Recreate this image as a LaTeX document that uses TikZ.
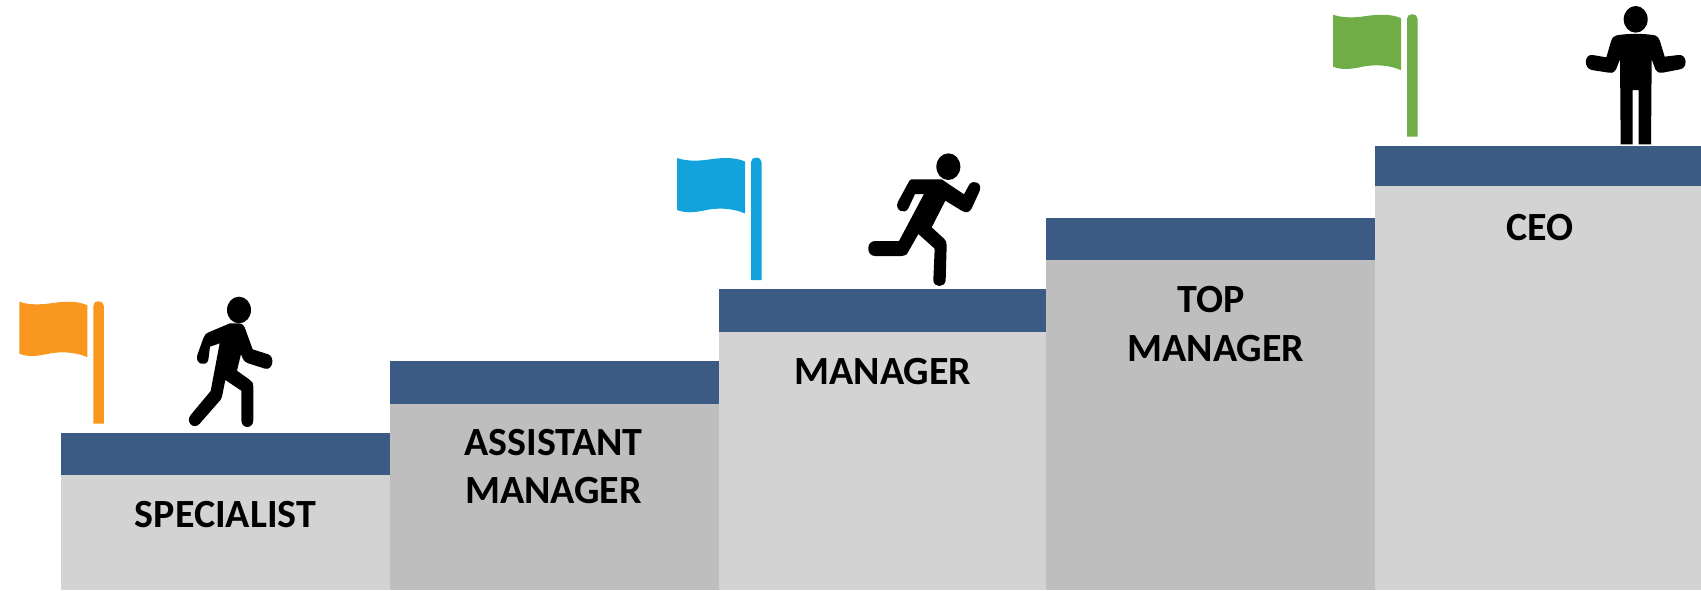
\documentclass[tikz,border=0pt]{standalone}
\usepackage{fontspec}
\setmainfont{Carlito}
\definecolor{stepblue}{HTML}{3B5B84}
\definecolor{steplight}{HTML}{D3D3D3}
\definecolor{stepdark}{HTML}{BEBEBE}
\definecolor{flagorange}{HTML}{F9971F}
\definecolor{flagblue}{HTML}{13A3DC}
\definecolor{flaggreen}{HTML}{70AD47}
\tikzset{
  steplabel/.style={font=\fontsize{30}{36.6}\selectfont\bfseries,align=center,text=black,inner sep=0pt},
  flagshape/.pic={
    \fill[pic actions] (0,0) .. controls (10,3.5) and (22,3) .. (32,1.5) .. controls (45,-0.5) and (58,-1) .. (68,3.5)
      -- (68,55.5) .. controls (58,51) and (45,49.5) .. (32,51.5) .. controls (20,54) and (10,56) .. (0,52) -- cycle;
    \fill[pic actions] (74,122) -- (74,4) .. controls (74,-2) and (84.5,-2) .. (84.5,4) -- (84.5,122) -- cycle;
  },
  zoomed/.style={x=.25pt,y=-.25pt}
}
\begin{document}
\begin{tikzpicture}[x=.75pt,y=-.75pt]
\useasboundingbox (0,0) rectangle (1701,590);
% steps
\fill[steplight] (61,475) rectangle (390,590);
\fill[stepdark] (390,404) rectangle (719,590);
\fill[steplight] (719,332) rectangle (1046,590);
\fill[stepdark] (1046,260) rectangle (1375,590);
\fill[steplight] (1375,186) rectangle (1701,590);
\fill[stepblue] (61,433) rectangle (390,475);
\fill[stepblue] (390,361) rectangle (719,404);
\fill[stepblue] (719,289) rectangle (1046,332);
\fill[stepblue] (1046,218) rectangle (1375,260);
\fill[stepblue] (1375,146) rectangle (1701,186);
% labels
\node[steplabel] (specialist) at (225.5,515) {SPECIALIST};
\node[steplabel] (assistant) at (553.5,466.5) {ASSISTANT\\MANAGER};
\node[steplabel] (manager) at (883,372) {MANAGER};
\node[steplabel] (top) at (1216,324) {TOP\hspace*{7.5pt}\\MANAGER};
\node[steplabel] (ceo) at (1540,228) {CEO};
% flags
\pic[fill=flagorange] at (19.3,301.7) {flagshape};
\pic[fill=flagblue] at (677,158) {flagshape};
\pic[fill=flaggreen] at (1333,14.7) {flagshape};
% walker
\begin{scope}[shift={(0,280)},zoomed]
\fill (717,90) ellipse [x radius=36,y radius=40];
\fill (690,130) -- (715,130) .. controls (728,130) and (733,138) .. (737,150) -- (758,208) -- (805,223)
 .. controls (826,232) and (818,272) .. (795,266) -- (745,250) .. controls (733,246) and (728,238) .. (723,222)
 -- (711,272) -- (750,300) .. controls (758,306) and (760,310) .. (760,320) -- (760,420)
 .. controls (760,448) and (724,448) .. (724,420) -- (724,332) -- (676,300) -- (666,350) .. controls (664,358) and (660,362) .. (656,366)
 -- (600,430) .. controls (582,452) and (555,426) .. (572,405) -- (632,333) -- (659,190) -- (630,200) -- (625,240)
 .. controls (618,262) and (584,252) .. (592,225) -- (610,175) .. controls (613,165) and (618,160) .. (628,156) -- cycle;
\end{scope}
% runner
\begin{scope}[shift={(660,140)},zoomed]
\fill (865,80) ellipse [x radius=36,y radius=40];
\fill (755,118) -- (845,118) -- (912,163) -- (927,135) .. controls (940,115) and (970,130) .. (958,155)
 -- (935,205) .. controls (928,218) and (918,220) .. (905,212) -- (856,182) -- (815,262) -- (852,296)
 .. controls (858,302) and (860,306) .. (860,316) -- (857,420) .. controls (856,444) and (820,444) .. (820,420)
 -- (824,326) -- (775,282) -- (745,335) .. controls (740,345) and (735,348) .. (725,348) -- (645,348)
 .. controls (618,348) and (618,303) .. (645,303) -- (717,303) -- (792,162) -- (765,162) -- (745,205)
 .. controls (733,226) and (702,210) .. (714,185) -- (745,128) .. controls (748,121) and (751,118) .. (755,118) -- cycle;
\end{scope}
% ceo
\begin{scope}[shift={(1310,0)},zoomed]
\fill (977,58) ellipse [x radius=36,y radius=40];
\fill (920,106) .. controls (955,100) and (1000,100) .. (1035,106) .. controls (1042,108) and (1046,114) .. (1050,124)
 -- (1064,170) -- (1105,165) .. controls (1132,162) and (1134,204) .. (1110,208) -- (1058,218) .. controls (1045,220) and (1039,214) .. (1036,208)
 -- (1025,178) -- (1023,433) -- (986,433) -- (986,270) -- (968,270) -- (968,433) -- (932,433) -- (930,178)
 -- (918,208) .. controls (915,215) and (909,220) .. (896,218) -- (845,210) .. controls (820,204) and (822,162) .. (848,165)
 -- (889,172) -- (903,124) .. controls (906,113) and (912,108) .. (920,106) -- cycle;
\end{scope}
\end{tikzpicture}
\end{document}
